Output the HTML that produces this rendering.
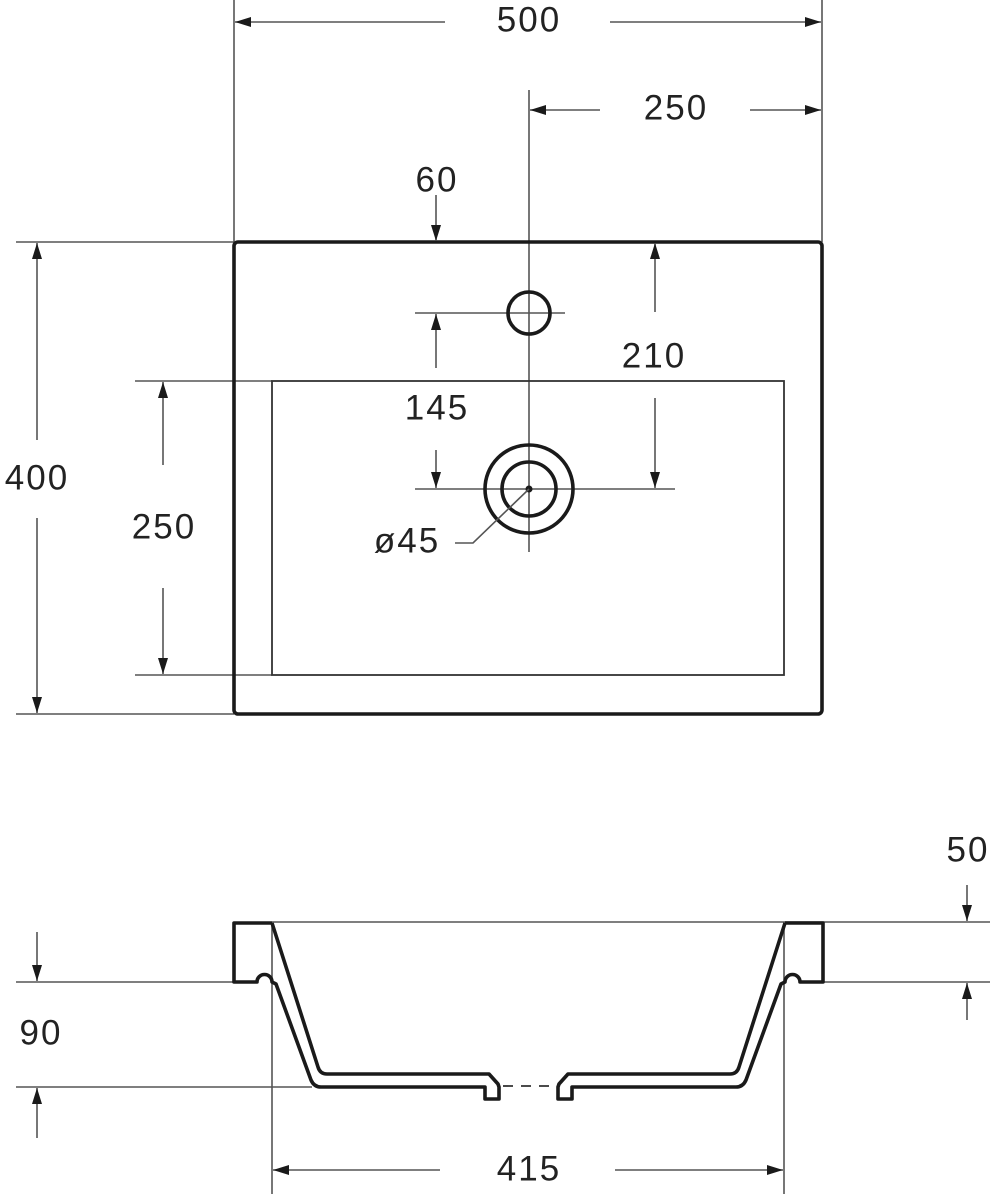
<!DOCTYPE html>
<html><head><meta charset="utf-8"><style>
html,body{margin:0;padding:0;background:#fff;}
svg{display:block;}
text{font-family:"Liberation Sans",sans-serif;font-size:35px;letter-spacing:2px;fill:#222;text-anchor:middle;dominant-baseline:central;}
.t{stroke:#555;stroke-width:1.6;fill:none;}
.k{stroke:#1a1a1a;stroke-width:3.6;fill:none;stroke-linejoin:round;}
</style></head><body>
<svg width="990" height="1194" viewBox="0 0 990 1194" xmlns="http://www.w3.org/2000/svg">
<defs>
<marker id="a" viewBox="0 0 16 10" refX="16" refY="5" markerWidth="16" markerHeight="10" markerUnits="userSpaceOnUse" orient="auto">
<path d="M0,0 L16,5 L0,10 Z" fill="#1a1a1a"/></marker>
</defs>
<!-- 500 -->
<line class="t" x1="234" y1="0" x2="234" y2="242"/>
<line class="t" x1="822" y1="0" x2="822" y2="242"/>
<line class="t" x1="445" y1="22" x2="235" y2="22" marker-end="url(#a)"/>
<line class="t" x1="610" y1="22" x2="821" y2="22" marker-end="url(#a)"/>
<text x="529" y="20">500</text>
<!-- 250 top -->
<line class="t" x1="529" y1="90" x2="529" y2="552"/>
<line class="t" x1="600" y1="110" x2="530" y2="110" marker-end="url(#a)"/>
<line class="t" x1="750" y1="110" x2="821" y2="110" marker-end="url(#a)"/>
<text x="676" y="108">250</text>
<!-- 400 -->
<line class="t" x1="16" y1="242" x2="234" y2="242"/>
<line class="t" x1="16" y1="714" x2="234" y2="714"/>
<line class="t" x1="37" y1="440" x2="37" y2="243" marker-end="url(#a)"/>
<line class="t" x1="37" y1="518" x2="37" y2="713" marker-end="url(#a)"/>
<text x="37" y="478">400</text>
<!-- 250 left -->
<line class="t" x1="135" y1="381" x2="272" y2="381"/>
<line class="t" x1="135" y1="675" x2="272" y2="675"/>
<line class="t" x1="163" y1="465" x2="163" y2="382" marker-end="url(#a)"/>
<line class="t" x1="163" y1="588" x2="163" y2="674" marker-end="url(#a)"/>
<text x="164" y="527">250</text>
<!-- sink top view -->
<rect class="k" x="234" y="242" width="588" height="472" rx="4"/>
<rect x="272" y="381" width="512" height="294" fill="none" stroke="#333" stroke-width="1.8"/>
<line class="t" x1="415" y1="313" x2="565" y2="313"/>
<circle class="k" cx="529" cy="313" r="21"/>
<line class="t" x1="415" y1="489" x2="675" y2="489"/>
<circle class="k" cx="529" cy="489" r="44"/>
<circle class="k" cx="529" cy="489" r="27"/>
<circle cx="529" cy="489" r="3.5" fill="#1a1a1a"/>
<!-- 60 -->
<text x="437" y="180">60</text>
<line class="t" x1="436" y1="195" x2="436" y2="241" marker-end="url(#a)"/>
<line class="t" x1="436" y1="368" x2="436" y2="314" marker-end="url(#a)"/>
<!-- 210 -->
<line class="t" x1="655" y1="312" x2="655" y2="243" marker-end="url(#a)"/>
<line class="t" x1="655" y1="398" x2="655" y2="488" marker-end="url(#a)"/>
<text x="654" y="356">210</text>
<!-- 145 -->
<text x="437" y="408">145</text>
<line class="t" x1="436" y1="450" x2="436" y2="488" marker-end="url(#a)"/>
<!-- ø45 -->
<text x="407" y="541">ø45</text>
<polyline class="t" points="455,543 473,543 529,489"/>
<!-- section view -->
<line class="t" x1="272" y1="922" x2="990" y2="922"/>
<line class="t" x1="823" y1="982" x2="990" y2="982"/>
<line class="t" x1="16" y1="982" x2="234" y2="982"/>
<line class="t" x1="16" y1="1087" x2="312" y2="1087"/>
<line class="t" x1="272" y1="922" x2="272" y2="1194"/>
<line class="t" x1="784" y1="922" x2="784" y2="1194"/>
<g id="half">
<path class="k" d="M272,923 L234,923 L234,982 L257,982 A7.5,7.5 0 0 1 272,982 L276,984 L311,1080 Q314,1087 321,1087 L485,1087 L485,1099 L499,1099 L499,1087 L498,1084 L489,1074 L327,1074 Q320,1074 318,1067 L272,923"/>
</g>
<use href="#half" transform="translate(1057,0) scale(-1,1)"/>
<line x1="503" y1="1086" x2="556" y2="1086" stroke="#333" stroke-width="1.8" stroke-dasharray="10,8"/>
<!-- 50 -->
<text x="968" y="850">50</text>
<line class="t" x1="967" y1="885" x2="967" y2="921" marker-end="url(#a)"/>
<line class="t" x1="967" y1="1020" x2="967" y2="983" marker-end="url(#a)"/>
<!-- 90 -->
<line class="t" x1="37" y1="932" x2="37" y2="981" marker-end="url(#a)"/>
<line class="t" x1="37" y1="1138" x2="37" y2="1088" marker-end="url(#a)"/>
<text x="41" y="1033">90</text>
<!-- 415 -->
<line class="t" x1="440" y1="1170" x2="273" y2="1170" marker-end="url(#a)"/>
<line class="t" x1="615" y1="1170" x2="783" y2="1170" marker-end="url(#a)"/>
<text x="529" y="1169">415</text>
</svg>
</body></html>
